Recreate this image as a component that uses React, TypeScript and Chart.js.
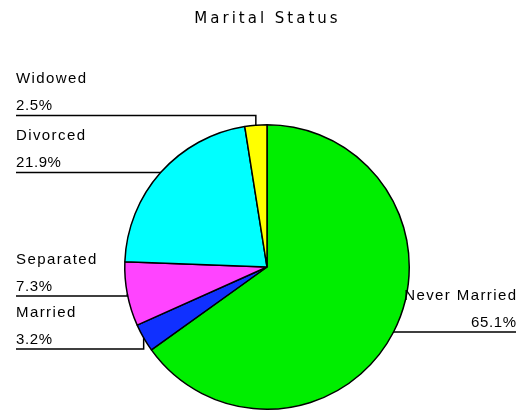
import React, { useEffect, useRef } from "react";
import { Chart, registerables } from "chart.js";

Chart.register(...registerables);

const titleText = "Marital Status";
const categories = ["Never Married", "Married", "Separated", "Divorced", "Widowed"];
const percentages = [65.1, 3.2, 7.3, 21.9, 2.5];
const sliceColors = ["#00ee00", "#1030ff", "#ff44ff", "#00ffff", "#ffff00"];
// label placement (layout only)
const labelSide = ["right", "left", "left", "left", "left"];
const labelLineY = [332, 349, 296, 172.5, 115.5];

function drawSpaced(
  ctx: CanvasRenderingContext2D,
  text: string,
  x: number,
  y: number,
  spacing: number,
  align: "left" | "right" | "center"
) {
  const chars = Array.from(text);
  const widths = chars.map((c) => ctx.measureText(c).width);
  const total = widths.reduce((a, b) => a + b, 0) + spacing * (chars.length - 1);
  let cx = align === "left" ? x : align === "right" ? x - total : x - total / 2;
  ctx.textAlign = "left";
  chars.forEach((c, i) => {
    ctx.fillText(c, cx, y);
    cx += widths[i] + spacing;
  });
}

const labelPlugin = {
  id: "pieLabels",
  afterDraw(chart: any) {
    const ctx = chart.ctx as CanvasRenderingContext2D;
    ctx.save();
    ctx.fillStyle = "#000";
    ctx.textBaseline = "alphabetic";
    ctx.font = '15px "DejaVu Sans"';
    drawSpaced(ctx, titleText, 266, 22.5, 3, "center");

    const meta = chart.getDatasetMeta(0);
    ctx.font = '15px "Liberation Sans"';
    ctx.lineWidth = 1.5;
    ctx.strokeStyle = "#000";
    meta.data.forEach((arc: any, i: number) => {
      const mid = (arc.startAngle + arc.endAngle) / 2;
      const px = arc.x + Math.cos(mid) * arc.outerRadius;
      const py = arc.y + Math.sin(mid) * arc.outerRadius;
      const ly = labelLineY[i];
      const left = labelSide[i] === "left";
      const tx = left ? 16 : 516;
      ctx.beginPath();
      ctx.moveTo(tx, ly);
      ctx.lineTo(px, ly);
      ctx.lineTo(px, py);
      ctx.stroke();
      const al = left ? "left" : "right";
      drawSpaced(ctx, categories[i], tx, ly - 32.5, 1.4, al);
      drawSpaced(ctx, percentages[i].toFixed(1) + "%", tx, ly - 5.5, 0.6, al);
    });
    ctx.restore();
  },
};

export default function App() {
  const ref = useRef<HTMLCanvasElement>(null);
  useEffect(() => {
    if (!ref.current) return;
    const chart = new Chart(ref.current, {
      type: "pie",
      data: {
        labels: categories,
        datasets: [
          {
            data: percentages,
            backgroundColor: sliceColors,
            borderColor: "#000",
            borderWidth: 1.5,
          },
        ],
      },
      options: {
        responsive: false,
        animation: false,
        layout: { padding: { left: 124, top: 124, right: 113, bottom: 4 } },
        plugins: {
          legend: { display: false },
          title: { display: false },
          tooltip: { enabled: false },
        },
      },
      plugins: [labelPlugin],
    });
    return () => chart.destroy();
  }, []);
  return (
    <div style={{ position: "fixed", left: 0, top: 0, width: 523, height: 414, background: "#fff" }}>
      <canvas ref={ref} width={523} height={414} />
    </div>
  );
}
